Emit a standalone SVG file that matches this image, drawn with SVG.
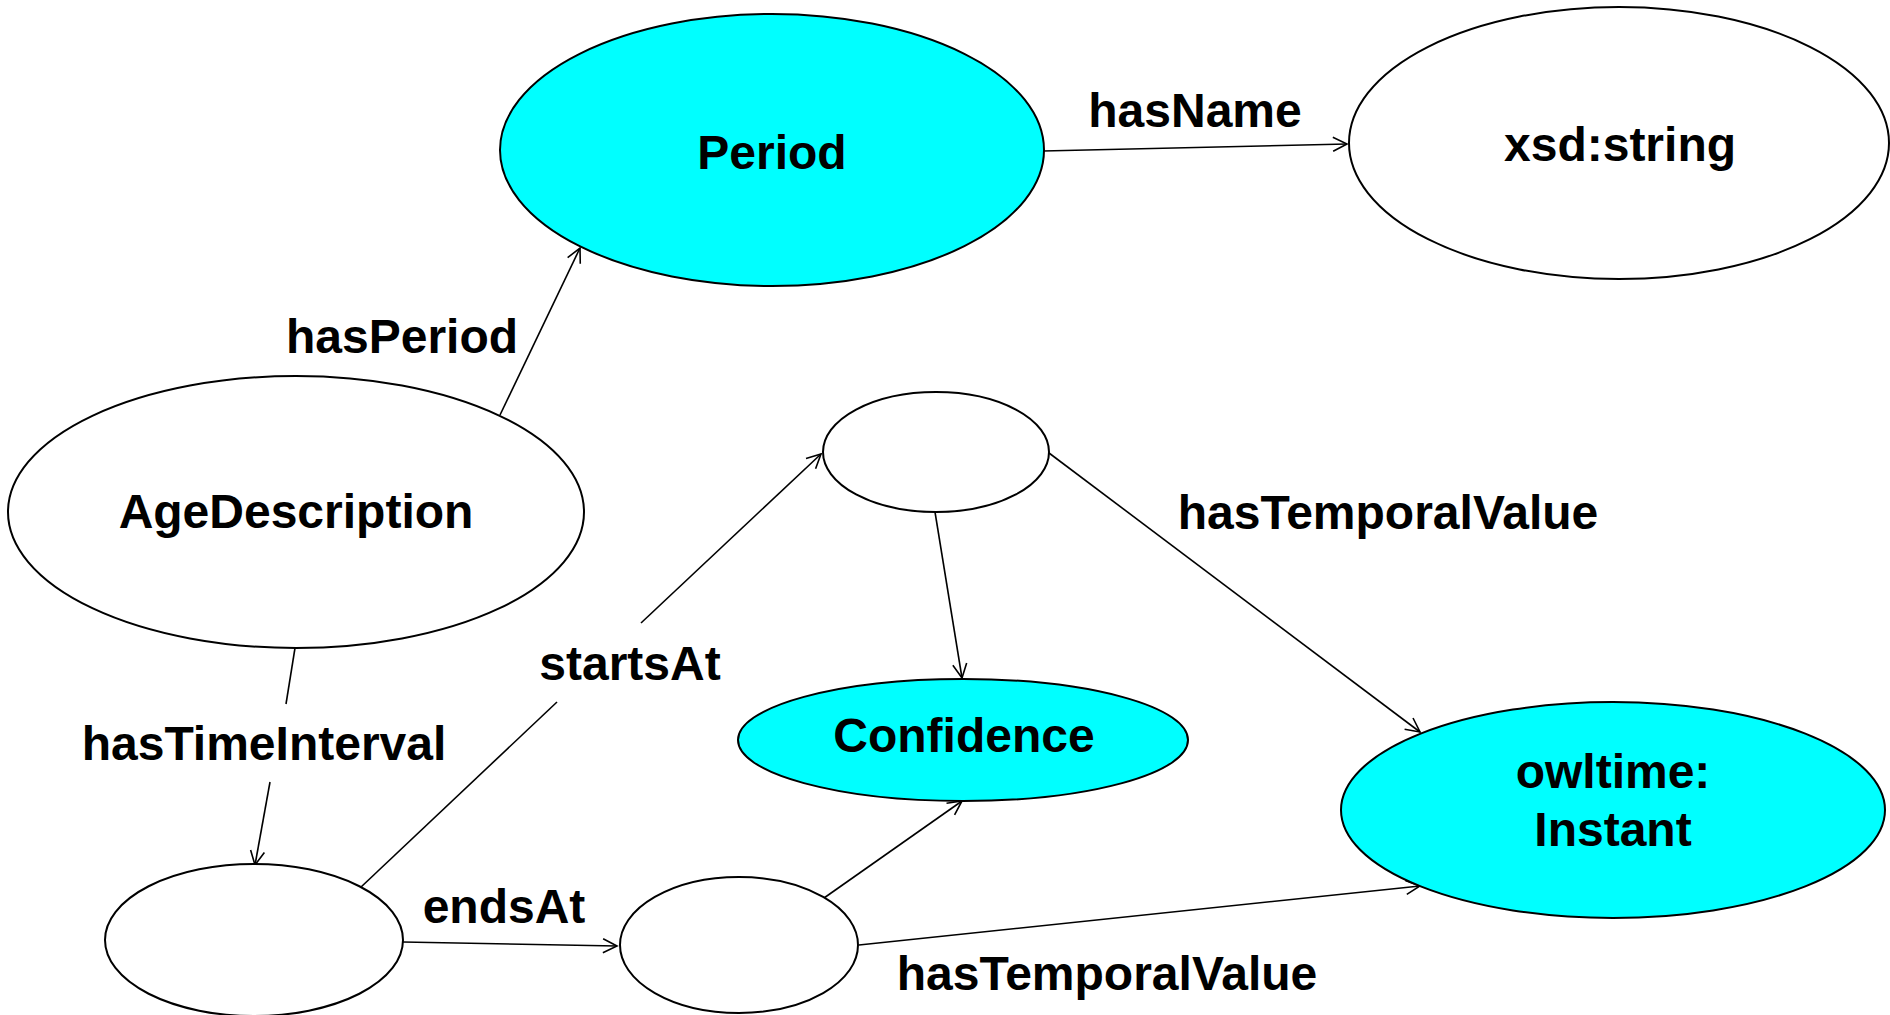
<svg xmlns="http://www.w3.org/2000/svg" width="1890" height="1015" viewBox="0 0 1890 1015">
<style>
.n{stroke:#000;stroke-width:2}
.w{fill:#fff}
.c{fill:#00ffff}
.t{font-family:"Liberation Sans",Arial,sans-serif;font-weight:bold;font-size:48px;fill:#000;text-anchor:middle}
.e{stroke:#000;stroke-width:1.6;fill:none}
.a{marker-end:url(#arr)}
</style>
<defs>
<marker id="arr" markerUnits="userSpaceOnUse" markerWidth="20" markerHeight="20" viewBox="0 0 20 20" refX="16" refY="10" orient="auto">
<path d="M2,3 L16,10 L2,17" fill="none" stroke="#000" stroke-width="1.6"/>
</marker>
</defs>
<rect width="1890" height="1015" fill="#fff"/>
<g id="connectors">
<line class="e a" x1="500" y1="415" x2="580" y2="248"/>
<line class="e a" x1="1043" y1="151" x2="1347" y2="144"/>
<line class="e" x1="295" y1="648" x2="286" y2="704"/>
<line class="e a" x1="270" y1="782" x2="255" y2="865"/>
<line class="e" x1="360" y1="888" x2="557" y2="702"/>
<line class="e a" x1="641" y1="623" x2="821" y2="454"/>
<line class="e a" x1="403" y1="942" x2="617" y2="946"/>
<line class="e a" x1="935" y1="512" x2="962" y2="678"/>
<line class="e a" x1="1049" y1="453" x2="1420" y2="732"/>
<line class="e a" x1="824" y1="898" x2="962" y2="801"/>
<line class="e a" x1="859" y1="945" x2="1420" y2="886"/>
<text class="t" x="402" y="353">hasPeriod</text>
<text class="t" x="1195" y="127">hasName</text>
<text class="t" x="264" y="760">hasTimeInterval</text>
<text class="t" x="630" y="680">startsAt</text>
<text class="t" x="504" y="923">endsAt</text>
<text class="t" x="1388" y="529">hasTemporalValue</text>
<text class="t" x="1107" y="990">hasTemporalValue</text>
</g>
<g id="period">
<ellipse class="n c" cx="772" cy="150" rx="272" ry="136"/>
<text class="t" x="772" y="169">Period</text>
</g>
<g id="xsdstring">
<ellipse class="n w" cx="1619" cy="143" rx="270" ry="136"/>
<text class="t" x="1620" y="161">xsd:string</text>
</g>
<g id="agedescription">
<ellipse class="n w" cx="296" cy="512" rx="288" ry="136"/>
<text class="t" x="296" y="528">AgeDescription</text>
</g>
<g id="startnode">
<ellipse class="n w" cx="936" cy="452" rx="113" ry="60"/>
</g>
<g id="confidence">
<ellipse class="n c" cx="963" cy="740" rx="225" ry="61"/>
<text class="t" x="964" y="752">Confidence</text>
</g>
<g id="instant">
<ellipse class="n c" cx="1613" cy="810" rx="272" ry="108"/>
<text class="t" x="1613" y="788">owltime:</text>
<text class="t" x="1613" y="846">Instant</text>
</g>
<g id="interval">
<ellipse class="n w" cx="254" cy="940" rx="149" ry="76"/>
</g>
<g id="endnode">
<ellipse class="n w" cx="739" cy="945" rx="119" ry="68"/>
</g>
</svg>
